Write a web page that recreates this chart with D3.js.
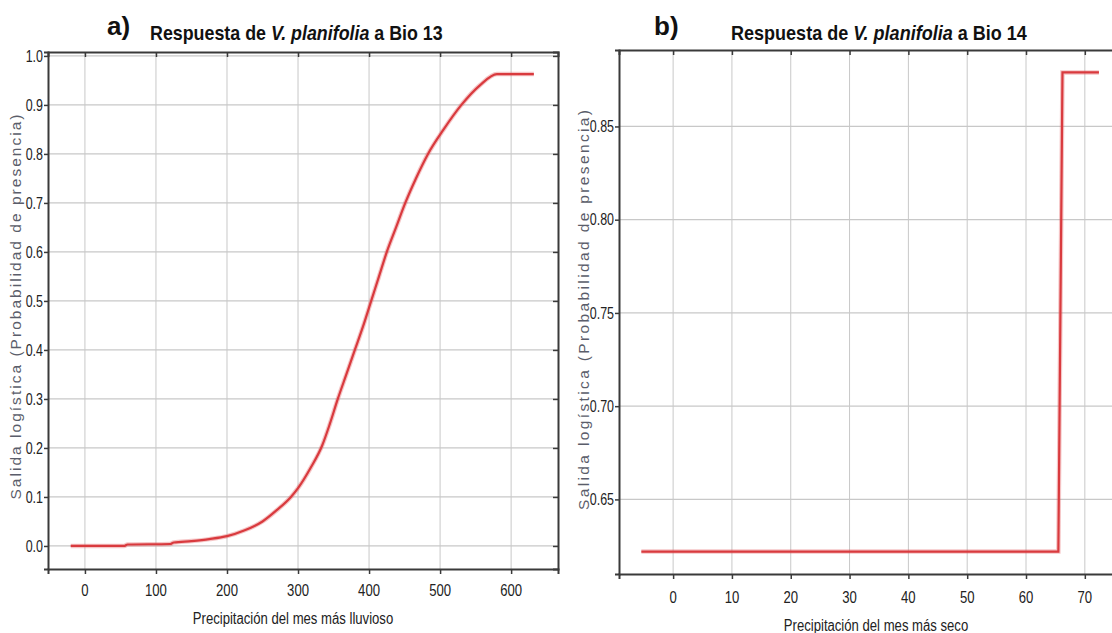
<!DOCTYPE html>
<html>
<head>
<meta charset="utf-8">
<script src="https://cdn.jsdelivr.net/npm/d3@7"></script>
<style>
  body { margin: 0; background: #fff; }
  svg { display: block; }
  .tick-label { font-family: "Liberation Sans", Arial, sans-serif; font-size: 16px; fill: #222; }
  .axis-title { font-family: "Liberation Sans", Arial, sans-serif; font-size: 16px; fill: #222; }
  .y-title { font-family: "Liberation Sans", Arial, sans-serif; font-size: 15.5px; fill: #5a5d6a; }
  .panel-title { font-family: "Liberation Sans", Arial, sans-serif; font-size: 21px; font-weight: bold; fill: #111; }
  .panel-letter { font-family: "Liberation Sans", Arial, sans-serif; font-size: 26px; font-weight: bold; fill: #111; }
</style>
</head>
<body>
<div id="chart"></div>
<script>
// panel a) response to Bio 13
const bio13X = [-20, 55, 60, 120, 125, 150, 175, 200, 225, 250, 270, 290, 300, 318, 334, 345, 356, 368, 380, 392, 403, 414, 425, 438, 451, 466, 483, 505, 530, 556, 580, 632];
const bio13Y = [0, 0, 0.003, 0.004, 0.007, 0.01, 0.014, 0.02, 0.032, 0.05, 0.073, 0.1, 0.118, 0.16, 0.205, 0.25, 0.3, 0.35, 0.4, 0.45, 0.5, 0.55, 0.6, 0.65, 0.7, 0.75, 0.8, 0.85, 0.9, 0.94, 0.963, 0.963];
const bio13XTicks = [0, 100, 200, 300, 400, 500, 600];
const bio13YTicks = [0, 0.1, 0.2, 0.3, 0.4, 0.5, 0.6, 0.7, 0.8, 0.9, 1.0];

// panel b) response to Bio 14
const bio14X = [-5.4, 65.5, 66.2, 72.4];
const bio14Y = [0.622, 0.622, 0.879, 0.879];
const bio14XTicks = [0, 10, 20, 30, 40, 50, 60, 70];
const bio14YTicks = [0.65, 0.70, 0.75, 0.80, 0.85];

const yTitle = 'Salida logística (Probabilidad de presencia)';
const narrow = 0.78; // condensed look of the original labels

const svg = d3.select('#chart').append('svg')
  .attr('width', 1112).attr('height', 633);

function drawPanel(opt) {
  const sx = d3.scaleLinear(opt.xDomain, [opt.left, opt.right]);
  const sy = d3.scaleLinear(opt.yDomain, [opt.bottom, opt.top]);
  const g = svg.append('g');

  // grid
  g.selectAll('line.gx').data(opt.xTicks).join('line')
    .attr('x1', d => sx(d)).attr('x2', d => sx(d))
    .attr('y1', opt.top).attr('y2', opt.bottom)
    .attr('stroke', '#c8c8c8').attr('stroke-width', 1);
  g.selectAll('line.gy').data(opt.yTicks).join('line')
    .attr('x1', opt.left).attr('x2', opt.right)
    .attr('y1', d => sy(d)).attr('y2', d => sy(d))
    .attr('stroke', '#c8c8c8').attr('stroke-width', 1.3);

  // axes
  const axB = d3.axisBottom(sx).tickValues(opt.xTicks).tickSize(5).tickFormat('');
  const axT = d3.axisTop(sx).tickValues(opt.xTicks).tickSize(-5).tickFormat('');
  const axL = d3.axisLeft(sy).tickValues(opt.yTicks).tickSize(4).tickFormat('');
  const axR = d3.axisRight(sy).tickValues(opt.yTicks).tickSize(-5).tickFormat('');
  [[axB, `translate(0,${opt.bottom})`], [axT, `translate(0,${opt.top})`],
   [axL, `translate(${opt.left},0)`], [axR, `translate(${opt.right},0)`]].forEach(([ax, tr]) => {
    const a = g.append('g').attr('transform', tr).call(ax);
    a.select('.domain').attr('stroke', '#3a3a3a').attr('stroke-width', 2);
    a.selectAll('.tick line').attr('stroke', '#3a3a3a').attr('stroke-width', 1.5);
  });

  // tick labels (squeezed horizontally)
  g.selectAll('text.xl').data(opt.xTicks).join('text')
    .attr('class', 'tick-label')
    .attr('transform', d => `translate(${sx(d)},${opt.bottom + opt.xLabelOffset}) scale(0.82,1)`)
    .attr('text-anchor', 'middle')
    .text(d => d);
  g.selectAll('text.yl').data(opt.yTicks).join('text')
    .attr('class', 'tick-label')
    .attr('transform', d => `translate(${opt.left - 5},${sy(d)}) scale(${narrow},1)`)
    .attr('dy', '0.35em')
    .attr('text-anchor', 'end')
    .text(d3.format(opt.yFormat));

  // line
  const pts = opt.xs.map((x, i) => [x, opt.ys[i]]);
  const line = d3.line().x(d => sx(d[0])).y(d => sy(d[1])).curve(opt.curve);
  g.append('path').datum(pts)
    .attr('fill', 'none')
    .attr('stroke', '#e3585c').attr('stroke-width', 4.5).attr('stroke-opacity', 0.35)
    .attr('d', line);
  g.append('path').datum(pts)
    .attr('fill', 'none')
    .attr('stroke', '#d93a3e').attr('stroke-width', 2.2)
    .attr('d', line);

  // titles
  g.append('text').attr('class', 'axis-title')
    .attr('transform', `translate(${opt.xTitleX},${opt.xTitleY}) scale(0.82,1)`)
    .attr('text-anchor', 'middle').text(opt.xTitle);
  g.append('text').attr('class', 'y-title')
    .attr('transform', `translate(${opt.yTitleX},${opt.yTitleY})rotate(-90)`)
    .attr('text-anchor', 'middle')
    .attr('textLength', opt.yTitleLen).attr('lengthAdjust', 'spacing')
    .text(yTitle);
  g.append('text').attr('class', 'panel-letter')
    .attr('x', opt.letterX).attr('y', 35).text(opt.letter);
  const t = g.append('text').attr('class', 'panel-title');
  t.append('tspan').text('Respuesta de ');
  t.append('tspan').attr('font-style', 'italic').text('V. planifolia');
  t.append('tspan').text(' a ' + opt.bio);
  const w = t.node().getComputedTextLength();
  t.attr('transform', `translate(${opt.titleX},40) scale(${opt.titleW / w},1)`);
}

drawPanel({
  xs: bio13X, ys: bio13Y, xTicks: bio13XTicks, yTicks: bio13YTicks,
  xDomain: [-52, 666], yDomain: [-0.047, 1.008],
  left: 48, right: 558, top: 52, bottom: 569,
  yFormat: '.1f', xLabelOffset: 27, curve: d3.curveMonotoneX,
  xTitle: 'Precipitación del mes más lluvioso', xTitleX: 293, xTitleY: 624,
  yTitleX: 21, yTitleY: 307, yTitleLen: 385,
  letter: 'a)', letterX: 107, titleX: 150, titleW: 293, bio: 'Bio 13'
});

drawPanel({
  xs: bio14X, ys: bio14Y, xTicks: bio14XTicks, yTicks: bio14YTicks,
  xDomain: [-9.2, 77], yDomain: [0.610, 0.891],
  left: 619, right: 1126, top: 50, bottom: 574,
  yFormat: '.2f', xLabelOffset: 29, curve: d3.curveLinear,
  xTitle: 'Precipitación del mes más seco', xTitleX: 876, xTitleY: 631,
  yTitleX: 589, yTitleY: 310, yTitleLen: 400,
  letter: 'b)', letterX: 654, titleX: 731, titleW: 296, bio: 'Bio 14'
});
</script>
</body>
</html>
